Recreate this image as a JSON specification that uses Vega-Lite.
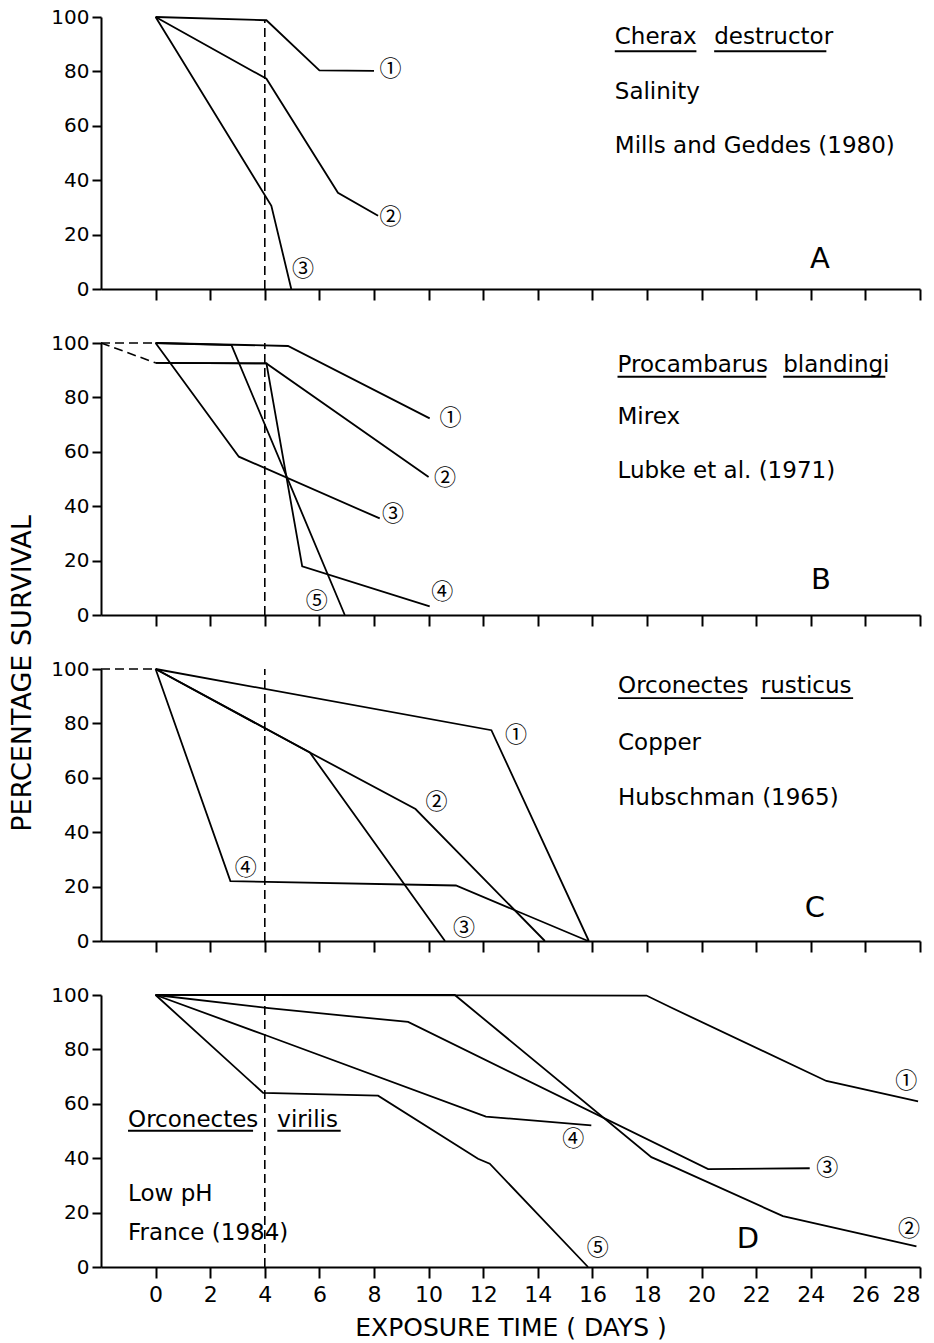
{
  "$schema": "https://vega.github.io/schema/vega-lite/v6.json",
  "background": "white",
  "padding": {"left": 8, "top": 7, "right": 0, "bottom": 4},
  "title": {"text": "PERCENTAGE  SURVIVAL", "orient": "left", "anchor": "middle", "fontSize": 27, "fontWeight": "normal", "font": "DejaVu Sans", "color": "black", "offset": 14},
  "spacing": 32,
  "datasets": {
    "solid": [
      {"panel": "A", "series": "1", "x": 0, "y": 100}, {"panel": "A", "series": "1", "x": 4.06, "y": 98.8}, {"panel": "A", "series": "1", "x": 6, "y": 80.4}, {"panel": "A", "series": "1", "x": 8, "y": 80.2},
      {"panel": "A", "series": "2", "x": 0, "y": 100}, {"panel": "A", "series": "2", "x": 4.06, "y": 77.3}, {"panel": "A", "series": "2", "x": 6.68, "y": 35.4}, {"panel": "A", "series": "2", "x": 8.15, "y": 26.9},
      {"panel": "A", "series": "3", "x": 0, "y": 100}, {"panel": "A", "series": "3", "x": 4.24, "y": 30.6}, {"panel": "A", "series": "3", "x": 4.97, "y": 0},
      {"panel": "B", "series": "1", "x": 0, "y": 100}, {"panel": "B", "series": "1", "x": 4.85, "y": 98.9}, {"panel": "B", "series": "1", "x": 10.04, "y": 72.3},
      {"panel": "B", "series": "2", "x": 0, "y": 92.7}, {"panel": "B", "series": "2", "x": 4.06, "y": 92.5}, {"panel": "B", "series": "2", "x": 10, "y": 50.7},
      {"panel": "B", "series": "3", "x": 0, "y": 100}, {"panel": "B", "series": "3", "x": 3.05, "y": 58.2}, {"panel": "B", "series": "3", "x": 8.21, "y": 35.5},
      {"panel": "B", "series": "4", "x": 0, "y": 92.7}, {"panel": "B", "series": "4", "x": 4.06, "y": 92.5}, {"panel": "B", "series": "4", "x": 5.37, "y": 17.9}, {"panel": "B", "series": "4", "x": 10.04, "y": 3.2},
      {"panel": "B", "series": "5", "x": 0, "y": 100}, {"panel": "B", "series": "5", "x": 2.78, "y": 99.2}, {"panel": "B", "series": "5", "x": 6.93, "y": 0},
      {"panel": "C", "series": "1", "x": 0, "y": 100}, {"panel": "C", "series": "1", "x": 12.3, "y": 77.5}, {"panel": "C", "series": "1", "x": 15.87, "y": 0},
      {"panel": "C", "series": "2", "x": 0, "y": 100}, {"panel": "C", "series": "2", "x": 5.65, "y": 69.3}, {"panel": "C", "series": "2", "x": 9.52, "y": 48.5}, {"panel": "C", "series": "2", "x": 14.26, "y": 0},
      {"panel": "C", "series": "3", "x": 0, "y": 100}, {"panel": "C", "series": "3", "x": 5.65, "y": 69.3}, {"panel": "C", "series": "3", "x": 10.6, "y": 0},
      {"panel": "C", "series": "4", "x": 0, "y": 100}, {"panel": "C", "series": "4", "x": 2.74, "y": 22}, {"panel": "C", "series": "4", "x": 11, "y": 20.4}, {"panel": "C", "series": "4", "x": 15.84, "y": 0},
      {"panel": "D", "series": "1", "x": 0, "y": 100}, {"panel": "D", "series": "1", "x": 17.98, "y": 99.8}, {"panel": "D", "series": "1", "x": 18.9, "y": 95.3}, {"panel": "D", "series": "1", "x": 24.57, "y": 68.4}, {"panel": "D", "series": "1", "x": 27.93, "y": 60.9},
      {"panel": "D", "series": "2", "x": 0, "y": 100}, {"panel": "D", "series": "2", "x": 10.96, "y": 100}, {"panel": "D", "series": "2", "x": 18.16, "y": 40.4}, {"panel": "D", "series": "2", "x": 19, "y": 36.7}, {"panel": "D", "series": "2", "x": 22.98, "y": 18.7}, {"panel": "D", "series": "2", "x": 27.87, "y": 7.6},
      {"panel": "D", "series": "3", "x": 0, "y": 100}, {"panel": "D", "series": "3", "x": 4.06, "y": 95.3}, {"panel": "D", "series": "3", "x": 6.8, "y": 92.5}, {"panel": "D", "series": "3", "x": 9.25, "y": 90.1}, {"panel": "D", "series": "3", "x": 20.24, "y": 36}, {"panel": "D", "series": "3", "x": 23.96, "y": 36.3},
      {"panel": "D", "series": "4", "x": 0, "y": 100}, {"panel": "D", "series": "4", "x": 4.06, "y": 85.1}, {"panel": "D", "series": "4", "x": 12.1, "y": 55.3}, {"panel": "D", "series": "4", "x": 15.96, "y": 52.1},
      {"panel": "D", "series": "5", "x": 0, "y": 100}, {"panel": "D", "series": "5", "x": 3.94, "y": 64}, {"panel": "D", "series": "5", "x": 8.15, "y": 63}, {"panel": "D", "series": "5", "x": 11.81, "y": 39.8}, {"panel": "D", "series": "5", "x": 12.24, "y": 38}, {"panel": "D", "series": "5", "x": 15.84, "y": 0}
    ],
    "dashed": [
      {"panel": "A", "series": "v", "x": 4, "y": 0}, {"panel": "A", "series": "v", "x": 4, "y": 98.8},
      {"panel": "B", "series": "d1", "x": -2, "y": 100}, {"panel": "B", "series": "d1", "x": 0, "y": 100},
      {"panel": "B", "series": "d2", "x": -2, "y": 100}, {"panel": "B", "series": "d2", "x": 0, "y": 92.7},
      {"panel": "B", "series": "v", "x": 4, "y": 0}, {"panel": "B", "series": "v", "x": 4, "y": 100},
      {"panel": "C", "series": "d1", "x": -2, "y": 100}, {"panel": "C", "series": "d1", "x": 0, "y": 100},
      {"panel": "C", "series": "v", "x": 4, "y": 0}, {"panel": "C", "series": "v", "x": 4, "y": 100},
      {"panel": "D", "series": "v", "x": 4, "y": 0}, {"panel": "D", "series": "v", "x": 4, "y": 100}
    ],
    "circled": [
      {"panel": "A", "text": "①", "x": 8.6, "y": 80.7}, {"panel": "A", "text": "②", "x": 8.6, "y": 26.6}, {"panel": "A", "text": "③", "x": 5.4, "y": 7.3},
      {"panel": "B", "text": "①", "x": 10.8, "y": 72.5}, {"panel": "B", "text": "②", "x": 10.6, "y": 50.3}, {"panel": "B", "text": "③", "x": 8.7, "y": 37}, {"panel": "B", "text": "④", "x": 10.5, "y": 8.3}, {"panel": "B", "text": "⑤", "x": 5.9, "y": 5},
      {"panel": "C", "text": "①", "x": 13.2, "y": 75.7}, {"panel": "C", "text": "②", "x": 10.29, "y": 51}, {"panel": "C", "text": "③", "x": 11.3, "y": 4.7}, {"panel": "C", "text": "④", "x": 3.3, "y": 27},
      {"panel": "D", "text": "①", "x": 27.5, "y": 68.4}, {"panel": "D", "text": "②", "x": 27.6, "y": 13.8}, {"panel": "D", "text": "③", "x": 24.6, "y": 36.4}, {"panel": "D", "text": "④", "x": 15.3, "y": 47.2}, {"panel": "D", "text": "⑤", "x": 16.2, "y": 7}
    ],
    "notes": [
      {"panel": "A", "text": "Cherax", "x": 16.82, "y": 89.9}, {"panel": "A", "text": "destructor", "x": 20.46, "y": 89.9}, {"panel": "A", "text": "Salinity", "x": 16.82, "y": 69.7}, {"panel": "A", "text": "Mills and Geddes (1980)", "x": 16.82, "y": 50.1},
      {"panel": "B", "text": "Procambarus", "x": 16.92, "y": 89.5}, {"panel": "B", "text": "blandingi", "x": 22.99, "y": 89.5}, {"panel": "B", "text": "Mirex", "x": 16.92, "y": 70.1}, {"panel": "B", "text": "Lubke et al. (1971)", "x": 16.92, "y": 50.4},
      {"panel": "C", "text": "Orconectes", "x": 16.94, "y": 91.1}, {"panel": "C", "text": "rusticus", "x": 22.17, "y": 91.1}, {"panel": "C", "text": "Copper", "x": 16.94, "y": 70.1}, {"panel": "C", "text": "Hubschman (1965)", "x": 16.94, "y": 50.1},
      {"panel": "D", "text": "Orconectes", "x": -1.01, "y": 51.6}, {"panel": "D", "text": "virilis", "x": 4.46, "y": 51.6}, {"panel": "D", "text": "Low pH", "x": -1.01, "y": 24.3}, {"panel": "D", "text": "France  (1984)", "x": -1.01, "y": 10.1}
    ],
    "underlines": [
      {"panel": "A", "x": 16.82, "x2": 19.81, "y": 87.4}, {"panel": "A", "x": 20.46, "x2": 24.57, "y": 87.4},
      {"panel": "B", "x": 16.92, "x2": 22.37, "y": 87.6}, {"panel": "B", "x": 22.99, "x2": 26.73, "y": 87.6},
      {"panel": "C", "x": 16.94, "x2": 21.52, "y": 89.3}, {"panel": "C", "x": 22.17, "x2": 25.55, "y": 89.3},
      {"panel": "D", "x": -1.01, "x2": 3.57, "y": 50.1}, {"panel": "D", "x": 4.46, "x2": 6.78, "y": 50.1}
    ],
    "letters": [
      {"panel": "A", "text": "A", "x": 24.33, "y": 7.9},
      {"panel": "B", "text": "B", "x": 24.37, "y": 9.7},
      {"panel": "C", "text": "C", "x": 24.15, "y": 9},
      {"panel": "D", "text": "D", "x": 21.7, "y": 6.9}
    ]
  },
  "vconcat": [
    {
      "width": 819, "height": 272,
      "encoding": {
        "x": {"field": "x", "type": "quantitative", "scale": {"domain": [-2, 28], "nice": false, "zero": false}, "axis": {"values": [0, 2, 4, 6, 8, 10, 12, 14, 16, 18, 20, 22, 24, 26, 28], "labels": false, "title": null, "tickSize": 11}},
        "y": {"field": "y", "type": "quantitative", "scale": {"domain": [0, 100], "nice": false}, "axis": {"values": [0, 20, 40, 60, 80, 100], "title": null}}
      },
      "layer": [
        {"data": {"name": "solid"}, "transform": [{"filter": "datum.panel === 'A'"}], "mark": {"type": "line", "color": "black", "strokeWidth": 1.8}, "encoding": {"detail": {"field": "series"}}},
        {"data": {"name": "dashed"}, "transform": [{"filter": "datum.panel === 'A'"}], "mark": {"type": "line", "color": "black", "strokeWidth": 1.6, "strokeDash": [9, 5]}, "encoding": {"detail": {"field": "series"}}},
        {"data": {"name": "underlines"}, "transform": [{"filter": "datum.panel === 'A'"}], "mark": {"type": "rule", "color": "black", "strokeWidth": 1.8}, "encoding": {"x2": {"field": "x2"}}},
        {"data": {"name": "notes"}, "transform": [{"filter": "datum.panel === 'A'"}], "mark": {"type": "text", "align": "left", "baseline": "alphabetic", "fontSize": 23, "color": "black"}, "encoding": {"text": {"field": "text"}}},
        {"data": {"name": "circled"}, "transform": [{"filter": "datum.panel === 'A'"}], "mark": {"type": "text", "align": "center", "baseline": "middle", "fontSize": 22, "font": "Noto Sans CJK JP", "color": "black"}, "encoding": {"text": {"field": "text"}}},
        {"data": {"name": "letters"}, "transform": [{"filter": "datum.panel === 'A'"}], "mark": {"type": "text", "align": "center", "baseline": "alphabetic", "fontSize": 29, "color": "black"}, "encoding": {"text": {"field": "text"}}}
      ]
    },
    {
      "width": 819, "height": 272,
      "encoding": {
        "x": {"field": "x", "type": "quantitative", "scale": {"domain": [-2, 28], "nice": false, "zero": false}, "axis": {"values": [0, 2, 4, 6, 8, 10, 12, 14, 16, 18, 20, 22, 24, 26, 28], "labels": false, "title": null, "tickSize": 11}},
        "y": {"field": "y", "type": "quantitative", "scale": {"domain": [0, 100], "nice": false}, "axis": {"values": [0, 20, 40, 60, 80, 100], "title": null}}
      },
      "layer": [
        {"data": {"name": "solid"}, "transform": [{"filter": "datum.panel === 'B'"}], "mark": {"type": "line", "color": "black", "strokeWidth": 1.8}, "encoding": {"detail": {"field": "series"}}},
        {"data": {"name": "dashed"}, "transform": [{"filter": "datum.panel === 'B'"}], "mark": {"type": "line", "color": "black", "strokeWidth": 1.6, "strokeDash": [9, 5]}, "encoding": {"detail": {"field": "series"}}},
        {"data": {"name": "underlines"}, "transform": [{"filter": "datum.panel === 'B'"}], "mark": {"type": "rule", "color": "black", "strokeWidth": 1.8}, "encoding": {"x2": {"field": "x2"}}},
        {"data": {"name": "notes"}, "transform": [{"filter": "datum.panel === 'B'"}], "mark": {"type": "text", "align": "left", "baseline": "alphabetic", "fontSize": 23, "color": "black"}, "encoding": {"text": {"field": "text"}}},
        {"data": {"name": "circled"}, "transform": [{"filter": "datum.panel === 'B'"}], "mark": {"type": "text", "align": "center", "baseline": "middle", "fontSize": 22, "font": "Noto Sans CJK JP", "color": "black"}, "encoding": {"text": {"field": "text"}}},
        {"data": {"name": "letters"}, "transform": [{"filter": "datum.panel === 'B'"}], "mark": {"type": "text", "align": "center", "baseline": "alphabetic", "fontSize": 29, "color": "black"}, "encoding": {"text": {"field": "text"}}}
      ]
    },
    {
      "width": 819, "height": 272,
      "encoding": {
        "x": {"field": "x", "type": "quantitative", "scale": {"domain": [-2, 28], "nice": false, "zero": false}, "axis": {"values": [0, 2, 4, 6, 8, 10, 12, 14, 16, 18, 20, 22, 24, 26, 28], "labels": false, "title": null, "tickSize": 11}},
        "y": {"field": "y", "type": "quantitative", "scale": {"domain": [0, 100], "nice": false}, "axis": {"values": [0, 20, 40, 60, 80, 100], "title": null}}
      },
      "layer": [
        {"data": {"name": "solid"}, "transform": [{"filter": "datum.panel === 'C'"}], "mark": {"type": "line", "color": "black", "strokeWidth": 1.8}, "encoding": {"detail": {"field": "series"}}},
        {"data": {"name": "dashed"}, "transform": [{"filter": "datum.panel === 'C'"}], "mark": {"type": "line", "color": "black", "strokeWidth": 1.6, "strokeDash": [9, 5]}, "encoding": {"detail": {"field": "series"}}},
        {"data": {"name": "underlines"}, "transform": [{"filter": "datum.panel === 'C'"}], "mark": {"type": "rule", "color": "black", "strokeWidth": 1.8}, "encoding": {"x2": {"field": "x2"}}},
        {"data": {"name": "notes"}, "transform": [{"filter": "datum.panel === 'C'"}], "mark": {"type": "text", "align": "left", "baseline": "alphabetic", "fontSize": 23, "color": "black"}, "encoding": {"text": {"field": "text"}}},
        {"data": {"name": "circled"}, "transform": [{"filter": "datum.panel === 'C'"}], "mark": {"type": "text", "align": "center", "baseline": "middle", "fontSize": 22, "font": "Noto Sans CJK JP", "color": "black"}, "encoding": {"text": {"field": "text"}}},
        {"data": {"name": "letters"}, "transform": [{"filter": "datum.panel === 'C'"}], "mark": {"type": "text", "align": "center", "baseline": "alphabetic", "fontSize": 29, "color": "black"}, "encoding": {"text": {"field": "text"}}}
      ]
    },
    {
      "width": 819, "height": 272,
      "encoding": {
        "x": {"field": "x", "type": "quantitative", "scale": {"domain": [-2, 28], "nice": false, "zero": false}, "axis": {"values": [0, 2, 4, 6, 8, 10, 12, 14, 16, 18, 20, 22, 24, 26, 28], "labels": true, "labelFontSize": 22, "labelPadding": 6, "title": "EXPOSURE  TIME  ( DAYS )", "titleFontSize": 25, "titleFontWeight": "normal", "titlePadding": 10, "tickSize": 11}},
        "y": {"field": "y", "type": "quantitative", "scale": {"domain": [0, 100], "nice": false}, "axis": {"values": [0, 20, 40, 60, 80, 100], "title": null}}
      },
      "layer": [
        {"data": {"name": "solid"}, "transform": [{"filter": "datum.panel === 'D'"}], "mark": {"type": "line", "color": "black", "strokeWidth": 1.8}, "encoding": {"detail": {"field": "series"}}},
        {"data": {"name": "dashed"}, "transform": [{"filter": "datum.panel === 'D'"}], "mark": {"type": "line", "color": "black", "strokeWidth": 1.6, "strokeDash": [9, 5]}, "encoding": {"detail": {"field": "series"}}},
        {"data": {"name": "underlines"}, "transform": [{"filter": "datum.panel === 'D'"}], "mark": {"type": "rule", "color": "black", "strokeWidth": 1.8}, "encoding": {"x2": {"field": "x2"}}},
        {"data": {"name": "notes"}, "transform": [{"filter": "datum.panel === 'D'"}], "mark": {"type": "text", "align": "left", "baseline": "alphabetic", "fontSize": 23, "color": "black"}, "encoding": {"text": {"field": "text"}}},
        {"data": {"name": "circled"}, "transform": [{"filter": "datum.panel === 'D'"}], "mark": {"type": "text", "align": "center", "baseline": "middle", "fontSize": 22, "font": "Noto Sans CJK JP", "color": "black"}, "encoding": {"text": {"field": "text"}}},
        {"data": {"name": "letters"}, "transform": [{"filter": "datum.panel === 'D'"}], "mark": {"type": "text", "align": "center", "baseline": "alphabetic", "fontSize": 29, "color": "black"}, "encoding": {"text": {"field": "text"}}}
      ]
    }
  ],
  "config": {
    "view": {"stroke": null},
    "font": "DejaVu Sans",
    "text": {"font": "DejaVu Sans"},
    "axis": {"grid": false, "domainColor": "black", "domainWidth": 2, "tickColor": "black", "tickWidth": 2, "labelColor": "black", "titleColor": "black", "labelFont": "DejaVu Sans", "titleFont": "DejaVu Sans", "labelFontSize": 20, "labelPadding": 3, "tickSize": 9}
  }
}
